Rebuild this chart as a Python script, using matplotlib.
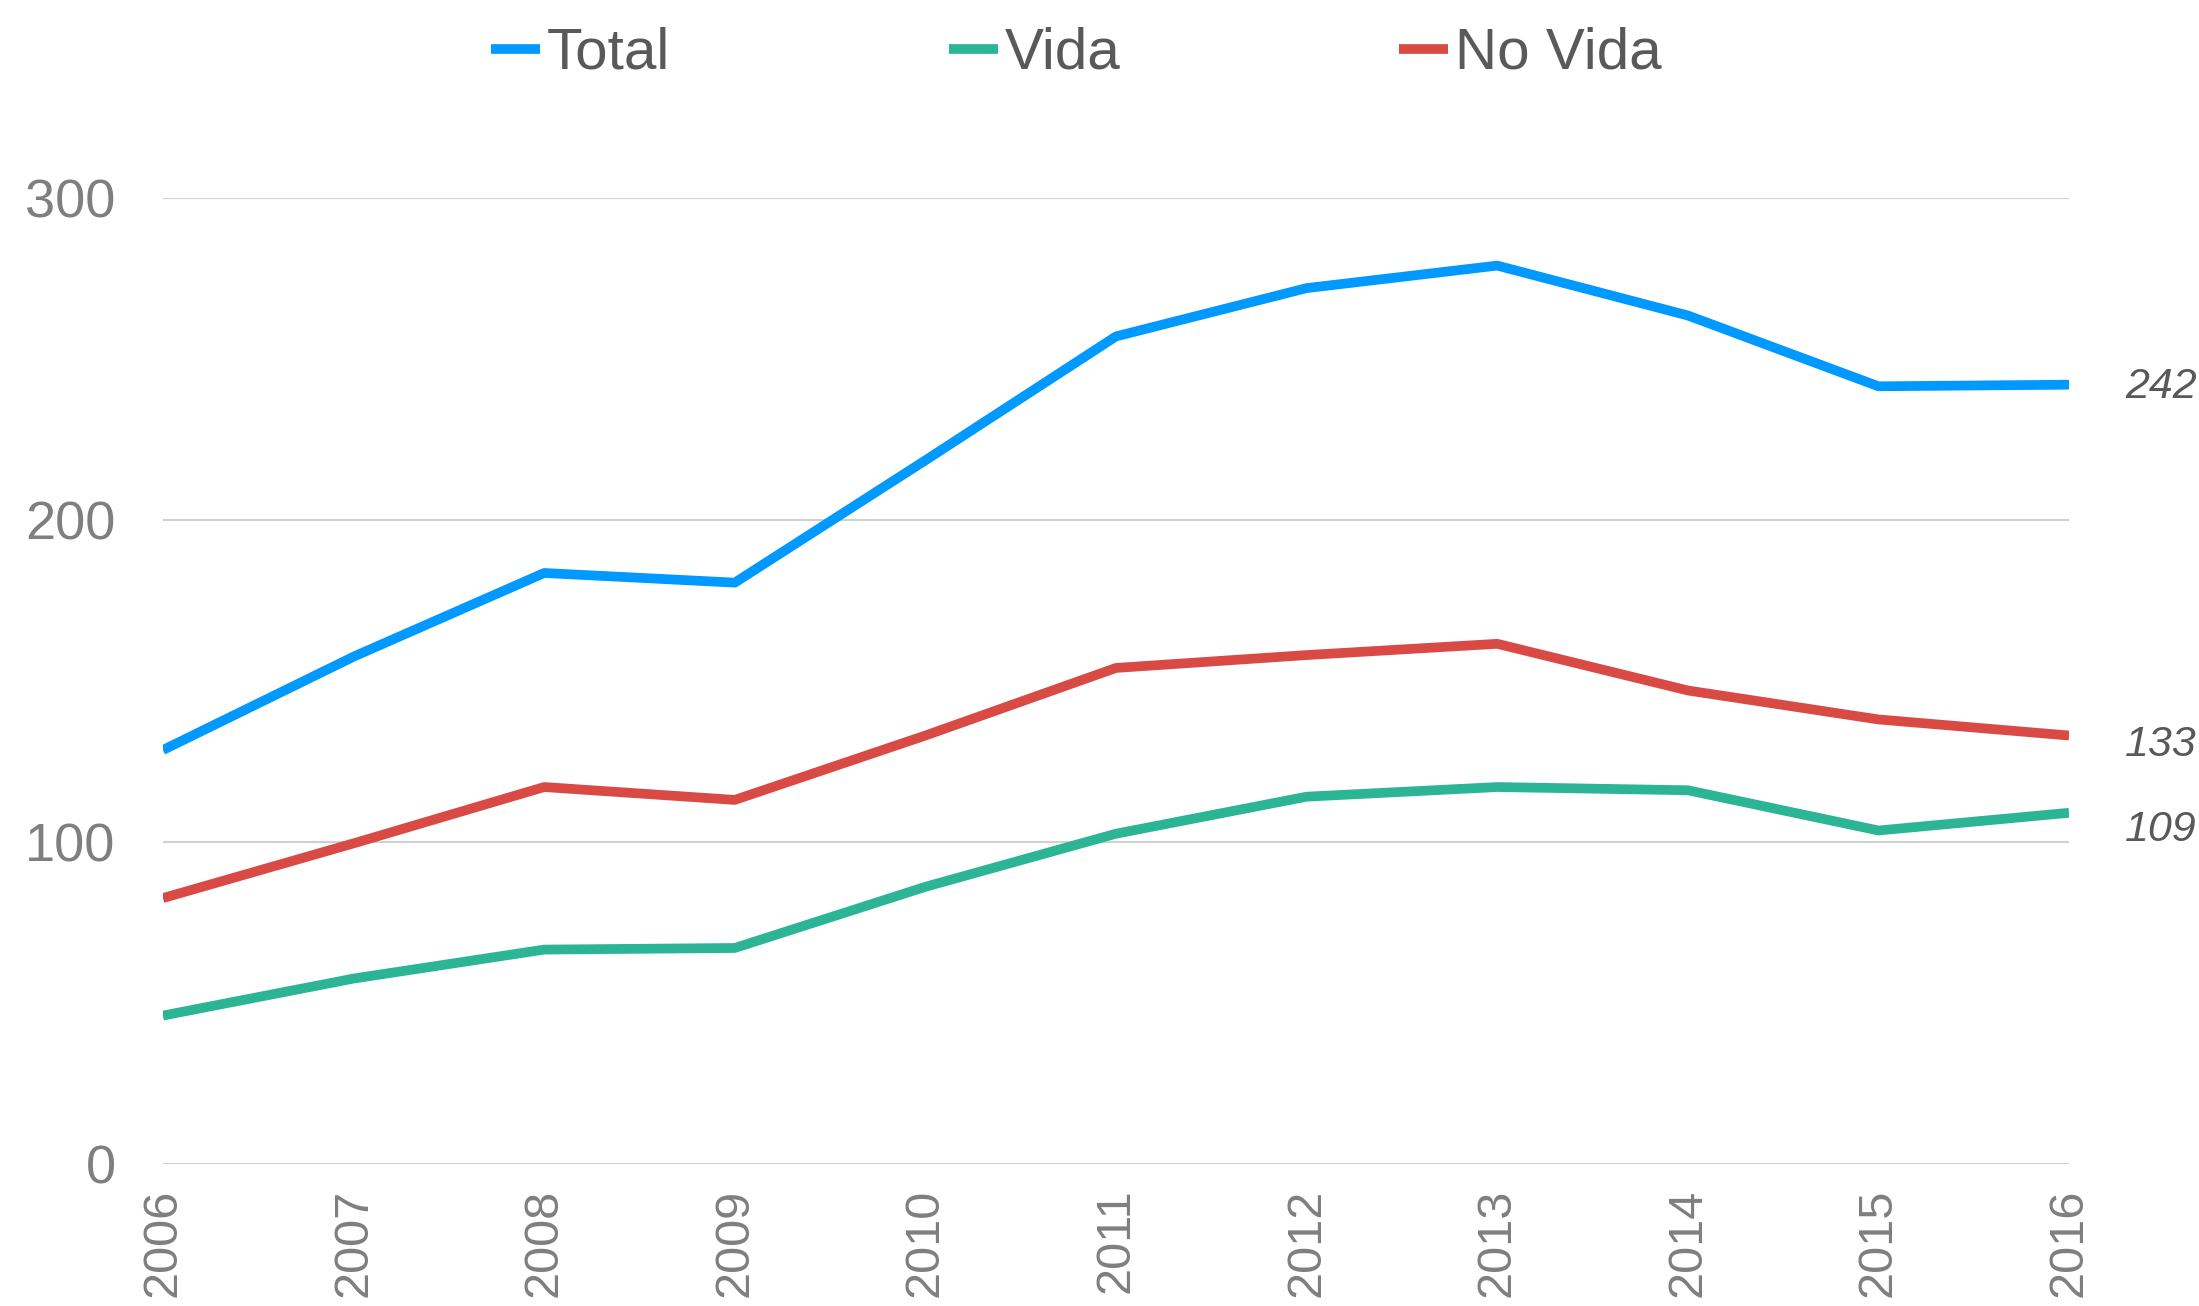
import matplotlib
matplotlib.use("Agg")
import matplotlib.pyplot as plt

years = [2006, 2007, 2008, 2009, 2010, 2011, 2012, 2013, 2014, 2015, 2016]
total = [128.5, 157.5, 183.5, 180.5, 218.5, 257, 272, 279, 263.5, 241.5, 242]
vida = [46, 57.5, 66.5, 67, 86, 102.5, 114, 117, 116, 103.5, 109]
no_vida = [82.5, 99.5, 117, 113, 133, 154, 158, 161.5, 147, 138, 133]

end_labels = ["242", "109", "133"]
series_names = ["Total", "Vida", "No Vida"]
colors = ["#0099FF", "#2BB594", "#D94A45"]
label_shift = [0, -15, -7]  # pixels, labels sit a bit below the line end

plt.rcParams["font.family"] = ["Liberation Sans", "DejaVu Sans"]

fig = plt.figure(figsize=(21.99, 13.06), dpi=100)
ax = fig.add_axes([0.0741, 0.109, 0.8668, 0.7394])

for vals, name, col, lab, dy in zip([total, vida, no_vida], series_names, colors, end_labels, label_shift):
    ax.plot(years, vals, color=col, lw=7, label=name, solid_capstyle="butt")
    ax.annotate(lab, xy=(years[-1], vals[-1]), xytext=(56, dy - 2), textcoords="offset pixels",
                ha="left", va="center", fontsize=31, style="italic", color="#595959")

ax.set_xlim(2006, 2016)
ax.set_ylim(0, 300)
ax.set_yticks([0, 100, 200, 300])
ax.set_xticks(years)
ax.set_xticklabels([str(y) for y in years], rotation=90)
ax.yaxis.grid(True, color="#D0D0D0", lw=1.5)
ax.set_axisbelow(True)
for s in ax.spines.values():
    s.set_visible(False)
ax.tick_params(axis="both", length=0, colors="#7F7F7F")
ax.tick_params(axis="y", labelsize=39, pad=34)
ax.tick_params(axis="x", labelsize=35, pad=18)

leg = fig.legend(loc="center", bbox_to_anchor=(0.4895, 0.9587), ncol=3, frameon=False,
                 fontsize=42, handlelength=0.84, handletextpad=0.12, columnspacing=4.78)
for t in leg.get_texts():
    t.set_color("#595959")

fig.savefig("out.png", dpi=100)
